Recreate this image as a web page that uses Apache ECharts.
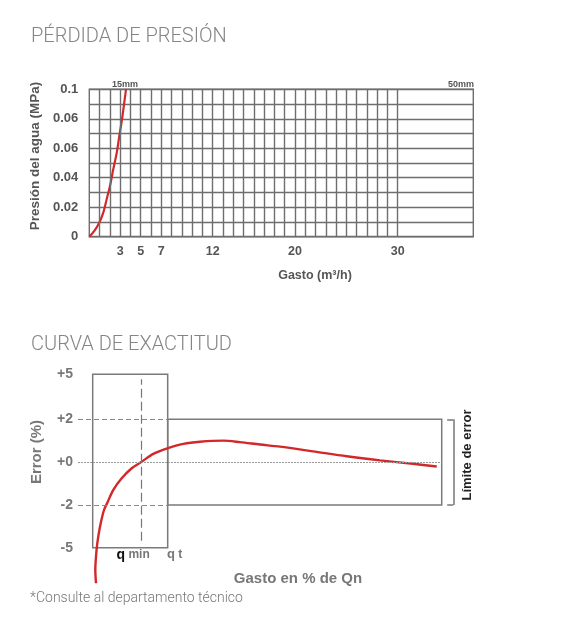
<!DOCTYPE html>
<html>
<head>
<meta charset="utf-8">
<script src="https://cdn.jsdelivr.net/npm/echarts@6/dist/echarts.min.js"></script>
<style>
  html, body { margin: 0; padding: 0; background: #fff; }
  #chart { width: 577px; height: 637px; }
</style>
</head>
<body>
<div id="chart"></div>
<script>
// --- pérdida de presión ---
const flowTicks = [3, 5, 7, 12, 20, 30]
const flowGridLines = [1, 2, 3, 4, 5, 6, 7, 8, 9, 10, 11, 12, 13, 14, 15, 16, 17, 18, 19, 20,
  21, 22, 23, 24, 25, 26, 27, 28, 29, 30]
const pressureTickLabels = ['0', '0.02', '0.04', '0.06', '0.06', '0.1'] // tal cual en el original
const curve15mm = [
  [0, 0], [0.49, 0.0039], [0.97, 0.0095], [1.36, 0.0163], [1.69, 0.0254], [2.01, 0.0344],
  [2.33, 0.0457], [2.67, 0.057], [2.92, 0.0683], [3.18, 0.0796], [3.4, 0.0909], [3.57, 0.1]
]

// --- curva de exactitud ---
// eje y por posiciones: -4 .. 4.1 se etiquetan como -5 .. +5
const errorTickPos = [-4, -2, 0, 2, 4.1]
const errorTickLabels = ['-5', '-2', '+0', '+2', '+5']
const qMin = 17.5
const qT = 24.66
const boxLeft = 4.04
const limitEnd = 100
const errorCurve = [
  [4.95, -5.66], [4.76, -5.04], [4.95, -4.42], [5.31, -3.79], [6.05, -3.02], [7.15, -2.24],
  [8.06, -1.9], [9.71, -1.3], [12.02, -0.76], [14.77, -0.29], [17.52, 0.02], [20.7, 0.38],
  [24.55, 0.64], [28.95, 0.85], [33.54, 0.95], [39.95, 1.0], [44.54, 0.93], [50.04, 0.82],
  [55.54, 0.72], [64.61, 0.5], [73.88, 0.27], [83.04, 0.08], [92.11, -0.08], [98.63, -0.21]
]

const gridGray = '#6e6e6e'
const red = '#d3282a'
const boldFont = 'Liberation Sans'

const chart = echarts.init(document.getElementById('chart'))

const option = {
  animation: false,
  backgroundColor: '#fff',
  title: [
    {
      text: 'PÉRDIDA DE PRESIÓN', left: 26, top: 22,
      textStyle: { fontFamily: 'Roboto', fontWeight: 300, fontSize: 20, color: '#858585' }
    },
    {
      text: 'CURVA DE EXACTITUD', left: 26, top: 330,
      textStyle: { fontFamily: 'Roboto', fontWeight: 300, fontSize: 20, color: '#858585' }
    },
    {
      text: '*Consulte al departamento técnico', left: 25, top: 586,
      textStyle: { fontFamily: 'Roboto', fontWeight: 300, fontSize: 14, color: '#777' }
    },
    {
      text: 'Gasto (m³/h)', left: 310, top: 264, textAlign: 'center',
      textStyle: { fontFamily: boldFont, fontWeight: 'bold', fontSize: 12.5, color: '#555' }
    },
    {
      text: '15mm', left: 120, top: 75, textAlign: 'center',
      textStyle: { fontFamily: boldFont, fontWeight: 'bold', fontSize: 9, color: '#555' }
    },
    {
      text: '50mm', left: 456, top: 75, textAlign: 'center',
      textStyle: { fontFamily: boldFont, fontWeight: 'bold', fontSize: 9, color: '#555' }
    },
    {
      text: 'Gasto en % de Qn', left: 293, top: 566, textAlign: 'center',
      textStyle: { fontFamily: boldFont, fontWeight: 'bold', fontSize: 15, color: '#777' }
    }
  ],
  graphic: [
    {
      type: 'text', x: 467, y: 455, rotation: Math.PI / 2,
      style: {
        text: 'Límite de error', align: 'center', verticalAlign: 'middle',
        font: 'bold 13px "Liberation Sans"', fill: '#222'
      }
    }
  ],
  grid: [
    { left: 89.3, top: 89.3, width: 384, height: 147.4, show: true, borderColor: gridGray, borderWidth: 1.4 },
    { left: 78, top: 374.3, width: 381.9, height: 173.4 }
  ],
  xAxis: [
    {
      gridIndex: 0, type: 'value', min: 0, max: 37.35, interval: 1,
      axisLine: { show: false }, axisTick: { show: false }, splitLine: { show: false },
      axisLabel: {
        margin: 8, fontFamily: boldFont, fontWeight: 'bold', fontSize: 12.5, color: '#555',
        formatter: (v) => (flowTicks.includes(v) ? String(v) : '')
      }
    },
    {
      gridIndex: 1, type: 'value', min: 0, max: 105,
      axisLine: { show: false }, axisTick: { show: false }, splitLine: { show: false },
      axisLabel: {
        margin: 0,
        customValues: [qMin, qT],
        formatter: (v) => (Math.abs(v - qMin) < 0.01 ? '{q|q} {s|min}{gap|}' : '{gap2|}{g|q}{s| t}'),
        rich: {
          q: { fontFamily: boldFont, fontWeight: 'bold', fontSize: 14, color: '#111' },
          g: { fontFamily: boldFont, fontWeight: 'bold', fontSize: 13, color: '#777' },
          s: { fontFamily: boldFont, fontWeight: 'bold', fontSize: 12, color: '#777' },
          gap: { width: 17 },
          gap2: { width: 14 }
        }
      }
    }
  ],
  yAxis: [
    {
      gridIndex: 0, type: 'value', min: 0, max: 0.1, interval: 0.01,
      axisLine: { show: false }, axisTick: { show: false },
      splitLine: { show: true, lineStyle: { color: gridGray, width: 1.4 } },
      axisLabel: {
        margin: 11, fontFamily: boldFont, fontWeight: 'bold', fontSize: 13, color: '#555',
        formatter: (v) => {
          const i = Math.round(v * 100)
          return i % 2 === 0 ? pressureTickLabels[i / 2] : ''
        }
      },
      name: 'Presión del agua (MPa)', nameLocation: 'middle', nameGap: 45, nameRotate: 90,
      nameTextStyle: {
        fontFamily: boldFont, fontWeight: 'bold', fontSize: 13.5, color: '#555', padding: [0, 0, 0, 14]
      }
    },
    {
      gridIndex: 1, type: 'value', min: -4, max: 4.1,
      axisLine: { show: false }, axisTick: { show: false }, splitLine: { show: false },
      axisLabel: {
        margin: 5, fontFamily: boldFont, fontWeight: 'bold', fontSize: 14, color: '#777',
        customValues: errorTickPos,
        formatter: (v) => errorTickLabels[errorTickPos.findIndex((p) => Math.abs(p - v) < 0.01)]
      },
      name: 'Error (%)', nameLocation: 'middle', nameGap: 34, nameRotate: 90,
      nameTextStyle: {
        fontFamily: boldFont, fontWeight: 'bold', fontSize: 15, color: '#777', padding: [0, 0, 0, 18]
      }
    }
  ],
  series: [
    {
      type: 'line', xAxisIndex: 0, yAxisIndex: 0, data: curve15mm,
      smooth: 0.3, showSymbol: false, silent: true,
      lineStyle: { color: red, width: 2.2 },
      markLine: {
        silent: true, symbol: 'none', label: { show: false },
        lineStyle: { color: gridGray, width: 1.4, type: 'solid' },
        data: flowGridLines.map((v) => ({ xAxis: v }))
      }
    },
    {
      type: 'line', xAxisIndex: 1, yAxisIndex: 1, data: errorCurve,
      smooth: 0.3, showSymbol: false, silent: true, clip: false,
      lineStyle: { color: red, width: 2.4 },
      markArea: {
        silent: true,
        itemStyle: { color: 'rgba(0,0,0,0)', borderColor: '#7a7a7a', borderWidth: 1.5 },
        data: [
          [{ coord: [boxLeft, -4] }, { coord: [qT, 4.1] }],
          [{ coord: [qT, -2] }, { coord: [limitEnd, 2] }]
        ]
      },
      markLine: {
        silent: true, symbol: 'none', label: { show: false },
        data: [
          [{ coord: [0, 2], lineStyle: { color: '#888', width: 1, type: [5, 3] } }, { coord: [qT, 2] }],
          [{ coord: [0, -2], lineStyle: { color: '#888', width: 1, type: [5, 3] } }, { coord: [qT, -2] }],
          [{ coord: [0, 0], lineStyle: { color: '#999', width: 1, type: [2, 1] } }, { coord: [limitEnd, 0] }],
          [{ coord: [qMin, -3.67], lineStyle: { color: '#777', width: 1.2, type: [9, 4] } }, { coord: [qMin, 3.87] }],
          [{ coord: [101.5, 2], lineStyle: { color: '#777', width: 1.5, type: 'solid' } }, { coord: [103.2, 2] }],
          [{ coord: [103.2, 2], lineStyle: { color: '#777', width: 1.5, type: 'solid' } }, { coord: [103.2, -2] }],
          [{ coord: [103.2, -2], lineStyle: { color: '#777', width: 1.5, type: 'solid' } }, { coord: [101.5, -2] }]
        ]
      }
    }
  ]
}

chart.setOption(option)
</script>
</body>
</html>
